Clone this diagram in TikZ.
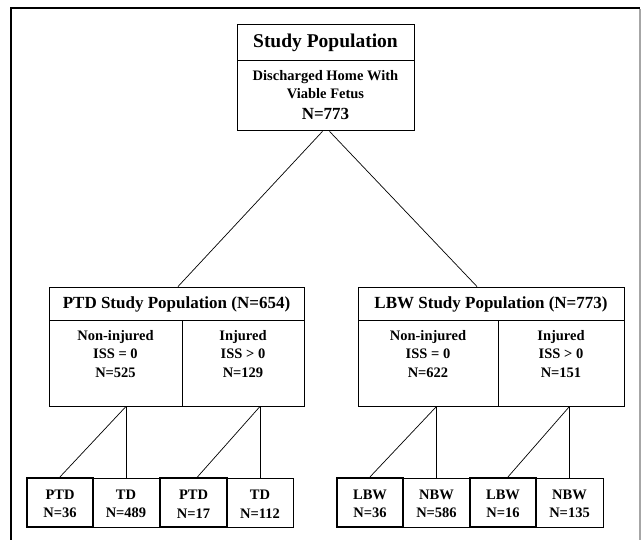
\documentclass[tikz,border=0pt]{standalone}
\usepackage{fontspec}
\setmainfont{Liberation Serif}
\usetikzlibrary{calc}
\begin{document}
\begin{tikzpicture}[x=1pt,y=-1pt,
  box/.style={draw,line width=0.9pt,inner sep=0pt,rectangle},
  thickbox/.style={draw,line width=2.2pt,inner sep=0pt,rectangle},
  lbl/.style={align=center,inner sep=0pt,font=\bfseries\fontsize{14.5}{18.5}\selectfont},
  conn/.style={line width=0.7pt}]
\useasboundingbox (0,0) rectangle (642,540);
% outer frame
\draw[line width=2pt] (10.5,540) -- (10.5,8) -- (640,8);
\draw[line width=2pt,black!35] (639.5,9) -- (639.5,540);
% top box
\node[box,minimum width=177,minimum height=36] (topH) at (325.5,42) {};
\node[box,minimum width=177,minimum height=70,anchor=north] (topB) at (topH.south) {};
\node[inner sep=0pt,font=\bfseries\fontsize{19.5}{22}\selectfont] (topHt) at (325.5,43) {Study Population};
\node[lbl] (topBt) at (325.5,84.5) {Discharged Home With\\Viable Fetus};
\node[inner sep=0pt,font=\bfseries\fontsize{17}{20}\selectfont] (topN) at (325.5,114) {N=773};
% PTD population
\node[box,minimum width=255,minimum height=33] (ptdH) at (176.5,303.5) {};
\node[inner sep=0pt,font=\bfseries\fontsize{17}{20}\selectfont] (ptdHt) at (176.5,304) {PTD Study Population (N=654)};
\node[box,minimum width=133,minimum height=86] (ptdL) at (115.5,363) {};
\node[box,minimum width=122,minimum height=86] (ptdR) at (243,363) {};
\node[lbl] (ptdLt) at (115.5,354) {Non-injured\\ISS = 0\\N=525};
\node[lbl] (ptdRt) at (243,354) {Injured\\ISS {\normalfont\bfseries>} 0\\N=129};
% LBW population
\node[box,minimum width=266,minimum height=33] (lbwH) at (491,303.5) {};
\node[inner sep=0pt,font=\bfseries\fontsize{17}{20}\selectfont] (lbwHt) at (491,304) {LBW Study Population (N=773)};
\node[box,minimum width=140,minimum height=86] (lbwL) at (428,363) {};
\node[box,minimum width=126,minimum height=86] (lbwR) at (561,363) {};
\node[lbl] (lbwLt) at (428,354) {Non-injured\\ISS = 0\\N=622};
\node[lbl] (lbwRt) at (561,354) {Injured\\ISS > 0\\N=151};
% bottom boxes
\node[box,minimum width=66,minimum height=49] (td1) at (126,502.5) {};
\node[box,minimum width=66,minimum height=49] (td2) at (260,502.5) {};
\node[thickbox,minimum width=66,minimum height=49] (ptd1) at (60,502.5) {};
\node[thickbox,minimum width=67,minimum height=49] (ptd2) at (193.5,502.5) {};
\node[lbl] (ptd1t) at (60,504) {PTD\\N=36};
\node[lbl] (td1t) at (126,504) {TD\\N=489};
\node[lbl] (ptd2t) at (193.5,504) {PTD\\N=17};
\node[lbl] (td2t) at (260,504) {TD\\N=112};
\node[box,minimum width=67,minimum height=49] (nbw1) at (436.5,502.5) {};
\node[box,minimum width=67,minimum height=49] (nbw2) at (569.5,502.5) {};
\node[thickbox,minimum width=66,minimum height=49] (lbw1) at (370,502.5) {};
\node[thickbox,minimum width=66,minimum height=49] (lbw2) at (503,502.5) {};
\node[lbl] (lbw1t) at (370,504) {LBW\\N=36};
\node[lbl] (nbw1t) at (436.5,504) {NBW\\N=586};
\node[lbl] (lbw2t) at (503,504) {LBW\\N=16};
\node[lbl] (nbw2t) at (569.5,504) {NBW\\N=135};
% connectors
\draw[conn] ($(topB.south)+(-3,0)$) -- ($(ptdH.north)+(1.5,0)$);
\draw[conn] ($(topB.south)+(4,0)$) -- ($(lbwH.north)+(-14,0)$);
\coordinate (c1) at (ptdL.south -| td1.north);
\coordinate (c2) at (ptdR.south -| td2.north);
\coordinate (c3) at (lbwL.south -| nbw1.north);
\coordinate (c4) at (lbwR.south -| nbw2.north);
\draw[conn] (c1) -- (td1.north);
\draw[conn] (c1) -- (ptd1.north);
\draw[conn] (c2) -- (td2.north);
\draw[conn] (c2) -- ($(ptd2.north)+(4,0)$);
\draw[conn] (c3) -- (nbw1.north);
\draw[conn] (c3) -- (lbw1.north);
\draw[conn] (c4) -- (nbw2.north);
\draw[conn] (c4) -- ($(lbw2.north)+(5,0)$);
\end{tikzpicture}
\end{document}
